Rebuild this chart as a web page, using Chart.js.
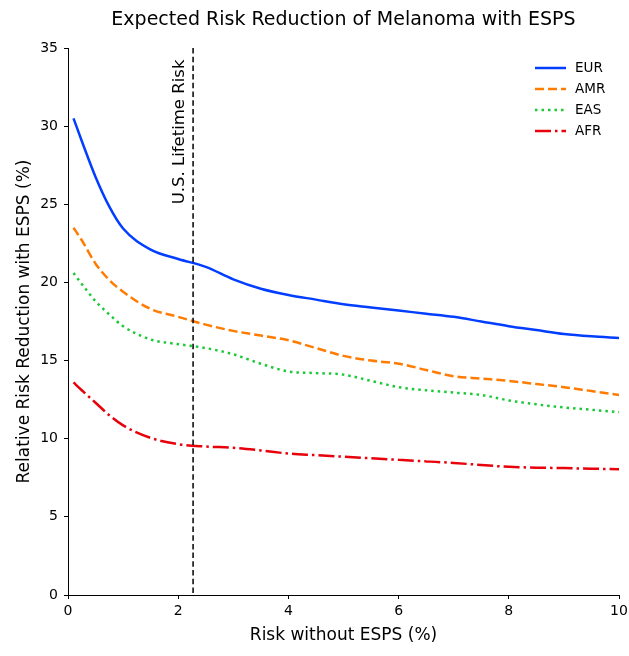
<!DOCTYPE html>
<html>
<head>
<meta charset="utf-8">
<script src="https://cdn.jsdelivr.net/npm/chart.js@4"></script>
<style>
  html, body { margin: 0; padding: 0; background: #fff; }
  #wrap { width: 629px; height: 656px; }
</style>
</head>
<body>
<div id="wrap"><canvas id="myChart"></canvas></div>
<script>
// Baseline risk (%) at which the curves are sampled
const riskWithout = [0.1, 0.25, 0.5, 0.75, 1, 1.5, 2, 2.5, 3, 3.5, 4, 4.5, 5, 5.5, 6, 6.5, 7, 7.5, 8, 8.5, 9, 9.5, 10];

// Relative risk reduction (%) per ancestry group
const eur = [30.5, 29.05, 26.75, 24.85, 23.45, 22.1, 21.5, 21.0, 20.2, 19.6, 19.2, 18.9, 18.6, 18.4, 18.2, 18.0, 17.8, 17.5, 17.2, 16.95, 16.7, 16.55, 16.45];
const amr = [23.5, 22.7, 21.2, 20.15, 19.4, 18.3, 17.8, 17.3, 16.9, 16.6, 16.3, 15.8, 15.3, 15.0, 14.8, 14.4, 14.0, 13.85, 13.7, 13.5, 13.3, 13.05, 12.8];
const eas = [20.6, 19.9, 18.8, 17.95, 17.2, 16.35, 16.05, 15.8, 15.4, 14.8, 14.3, 14.2, 14.1, 13.7, 13.3, 13.1, 12.95, 12.8, 12.45, 12.2, 12.0, 11.85, 11.7];
const afr = [13.6, 13.1, 12.3, 11.5, 10.85, 10.05, 9.65, 9.5, 9.42, 9.25, 9.05, 8.95, 8.85, 8.75, 8.65, 8.55, 8.45, 8.32, 8.2, 8.15, 8.12, 8.08, 8.05];

const seriesLabels = ['EUR', 'AMR', 'EAS', 'AFR'];
const xTicks = [0, 2, 4, 6, 8, 10];
const yTicks = [0, 5, 10, 15, 20, 25, 30, 35];

// Reference line for the U.S. lifetime risk
const usLifetimeRisk = 2.27;
const usLabelY = 25;

const FONT = '"DejaVu Sans", sans-serif';

const styles = [
    { color: '#023eff', dash: [] },
    { color: '#ff7c00', dash: [9, 4] },
    { color: '#1ac938', dash: [2.5, 4] },
    { color: '#e8000b', dash: [16, 4, 2.5, 4] }
];

function toPoints(values) {
    return values.map((v, i) => ({ x: riskWithout[i], y: v }));
}

const seriesValues = [eur, amr, eas, afr];

// Title, reference line and legend drawn on top of the chart
const annotations = {
    id: 'annotations',
    afterDatasetsDraw(chart) {
        const { ctx, chartArea, scales } = chart;
        const x = scales.x.getPixelForValue(usLifetimeRisk);

        ctx.save();
        ctx.strokeStyle = '#000';
        ctx.lineWidth = 1.5;
        ctx.setLineDash([5.5, 3.2]);
        ctx.beginPath();
        ctx.moveTo(x, chartArea.top);
        ctx.lineTo(x, chartArea.bottom);
        ctx.stroke();
        ctx.setLineDash([]);

        ctx.fillStyle = '#000';
        ctx.font = '16.5px ' + FONT;
        ctx.translate(x - 13, scales.y.getPixelForValue(usLabelY));
        ctx.rotate(-Math.PI / 2);
        ctx.textAlign = 'left';
        ctx.textBaseline = 'middle';
        ctx.fillText('U.S. Lifetime Risk', 0, 0);
        ctx.restore();

        // title
        ctx.save();
        ctx.fillStyle = '#000';
        ctx.font = '19px ' + FONT;
        ctx.textAlign = 'center';
        ctx.textBaseline = 'middle';
        ctx.fillText('Expected Risk Reduction of Melanoma with ESPS', (chartArea.left + chartArea.right) / 2, 20);
        ctx.restore();

        // legend
        ctx.save();
        ctx.font = '13.5px ' + FONT;
        ctx.textBaseline = 'middle';
        ctx.textAlign = 'left';
        seriesLabels.forEach((label, i) => {
            const y = 68 + i * 21;
            ctx.strokeStyle = styles[i].color;
            ctx.lineWidth = 2.5;
            ctx.setLineDash(styles[i].dash);
            ctx.beginPath();
            ctx.moveTo(535, y);
            ctx.lineTo(566, y);
            ctx.stroke();
            ctx.fillStyle = '#000';
            ctx.fillText(label, 575, y);
        });
        ctx.restore();
    }
};

const ctx = document.getElementById('myChart').getContext('2d');
new Chart(ctx, {
    type: 'line',
    data: {
        datasets: seriesLabels.map((label, i) => ({
            label: label,
            data: toPoints(seriesValues[i]),
            borderColor: styles[i].color,
            borderWidth: 2.5,
            borderDash: styles[i].dash,
            pointRadius: 0,
            fill: false,
            cubicInterpolationMode: 'monotone'
        }))
    },
    options: {
        responsive: true,
        maintainAspectRatio: false,
        animation: false,
        layout: { padding: { top: 48, right: 10, left: 0, bottom: 0 } },
        scales: {
            x: {
                type: 'linear',
                min: 0,
                max: 10,
                afterFit(scale) {
                    scale.height = 61;
                    scale.paddingRight = 0;
                    scale.paddingLeft = 0;
                },
                afterBuildTicks(scale) { scale.ticks = xTicks.map(v => ({ value: v })); },
                border: { display: true, color: '#000', width: 1 },
                grid: { drawOnChartArea: false, drawTicks: true, tickLength: 4, color: '#000' },
                ticks: {
                    color: '#000',
                    font: { family: FONT, size: 14 },
                    padding: 4,
                    maxRotation: 0
                },
                title: {
                    display: true,
                    text: 'Risk without ESPS (%)',
                    color: '#000',
                    font: { family: FONT, size: 17 },
                    padding: { top: 0, bottom: 10 }
                }
            },
            y: {
                type: 'linear',
                min: 0,
                max: 35,
                afterFit(scale) { scale.width = 68; },
                afterBuildTicks(scale) { scale.ticks = yTicks.map(v => ({ value: v })); },
                border: { display: true, color: '#000', width: 1 },
                grid: { drawOnChartArea: false, drawTicks: true, tickLength: 4, color: '#000' },
                ticks: {
                    color: '#000',
                    font: { family: FONT, size: 14 },
                    padding: 6
                },
                title: {
                    display: true,
                    text: 'Relative Risk Reduction with ESPS (%)',
                    color: '#000',
                    font: { family: FONT, size: 17 },
                    padding: { top: 14, bottom: 0 }
                }
            }
        },
        plugins: {
            legend: { display: false },
            title: { display: false },
            tooltip: { enabled: false }
        }
    },
    plugins: [annotations]
});
</script>
</body>
</html>
